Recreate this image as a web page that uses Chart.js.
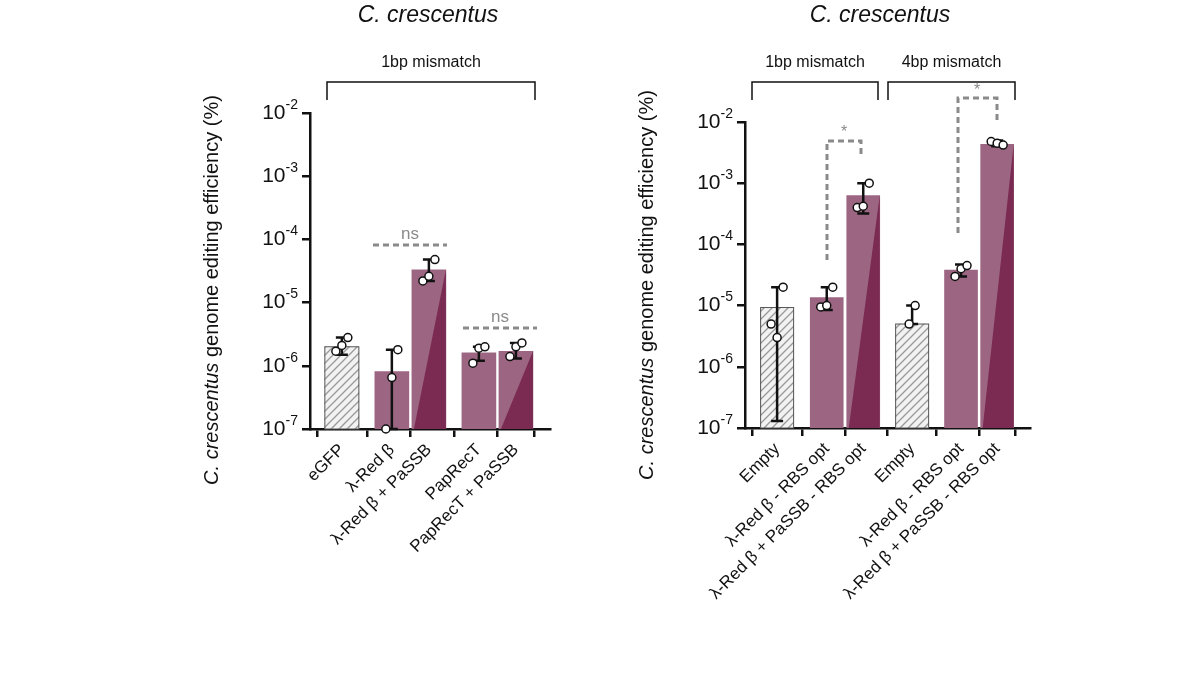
<!DOCTYPE html>
<html><head><meta charset="utf-8">
<script src="https://cdn.jsdelivr.net/npm/chart.js@4/dist/chart.umd.min.js"></script>
<style>
body{margin:0;background:#fff;width:1200px;height:675px;overflow:hidden;position:relative}
canvas{position:absolute;top:0}
</style></head><body>
<div style="position:absolute;left:0;top:0;width:600px;height:675px"><canvas id="c1"></canvas></div>
<div style="position:absolute;left:600px;top:0;width:600px;height:675px"><canvas id="c2"></canvas></div>
<script>
// ---- data ----
const leftLabels = ["eGFP", "λ-Red β", "λ-Red β + PaSSB", "PapRecT", "PapRecT + PaSSB"];
const leftPos = [0, 1.35, 2.35, 3.7, 4.7];
const leftMeans = [2.0e-6, 8.1e-7, 3.3e-5, 1.6e-6, 1.7e-6];
const leftErrLow = [1.5e-6, 1.0e-7, 2.2e-5, 1.2e-6, 1.3e-6];
const leftErrHigh = [2.8e-6, 1.8e-6, 4.8e-5, 2.0e-6, 2.3e-6];
const leftPoints = [[1.7e-6, 2.1e-6, 2.8e-6], [1.0e-7, 6.5e-7, 1.8e-6], [2.2e-5, 2.6e-5, 4.8e-5], [1.1e-6, 1.9e-6, 2.0e-6], [1.4e-6, 2.0e-6, 2.3e-6]];
const leftKind = ["hatch", "light", "split", "light", "split"];

const rightLabels = ["Empty", "λ-Red β - RBS opt", "λ-Red β + PaSSB - RBS opt", "Empty", "λ-Red β - RBS opt", "λ-Red β + PaSSB - RBS opt"];
const rightPos = [0, 1.36, 2.36, 3.7, 5.04, 6.03];
const rightMeans = [9.3e-6, 1.35e-5, 6.3e-4, 5.0e-6, 3.8e-5, 4.3e-3];
const rightErrLow = [1.3e-7, 8.5e-6, 3.2e-4, 5.0e-6, 3.0e-5, 4.0e-3];
const rightErrHigh = [2.0e-5, 2.0e-5, 1.0e-3, 1.0e-5, 4.7e-5, 5.0e-3];
const rightPoints = [[5e-6, 3e-6, 2e-5], [9.5e-6, 1e-5, 2e-5], [4e-4, 4.2e-4, 1e-3], [5e-6, 1e-5], [3e-5, 4e-5, 4.5e-5], [4.8e-3, 4.5e-3, 4.2e-3]];
const rightKind = ["hatch", "light", "split", "hatch", "light", "split"];

const yExps = [-7, -6, -5, -4, -3, -2];

const LIGHT = "#9c6682", DARK = "#7b2a52";
function hatch(){
  const c = document.createElement("canvas"); c.width = 8; c.height = 8;
  const g = c.getContext("2d");
  g.fillStyle = "#f2f2f2"; g.fillRect(0,0,8,8);
  g.strokeStyle = "#999"; g.lineWidth = 1.3;
  g.beginPath(); g.moveTo(0,8); g.lineTo(8,0); g.moveTo(-2,2); g.lineTo(2,-2); g.moveTo(6,10); g.lineTo(10,6); g.stroke();
  return g.createPattern(c, "repeat");
}
const HATCH = hatch();

function makeChart(id, o){
  const deco = {
    id: "deco",
    afterDatasetsDraw(chart){
      const ctx = chart.ctx, x = chart.scales.x, y = chart.scales.y;
      const meta = chart.getDatasetMeta(0);
      ctx.save();
      meta.data.forEach((bar, i) => {
        const hw = bar.width/2;
        if (o.kind[i] === "split"){
          ctx.fillStyle = DARK; ctx.beginPath();
          ctx.moveTo(bar.x - hw + 2, bar.base); ctx.lineTo(bar.x + hw, bar.y); ctx.lineTo(bar.x + hw, bar.base); ctx.closePath(); ctx.fill();
        }
        if (o.kind[i] === "hatch"){
          ctx.strokeStyle = "#555"; ctx.lineWidth = 1;
          ctx.strokeRect(bar.x - hw, bar.y, bar.width, bar.base - bar.y);
        }
        // error bar
        const xl = bar.x, yl = y.getPixelForValue(o.lo[i]), yh = y.getPixelForValue(o.hi[i]);
        ctx.strokeStyle = "#111"; ctx.lineWidth = 2.5;
        ctx.beginPath(); ctx.moveTo(xl, yl); ctx.lineTo(xl, yh);
        ctx.moveTo(xl-6, yl); ctx.lineTo(xl+6, yl); ctx.moveTo(xl-6, yh); ctx.lineTo(xl+6, yh); ctx.stroke();
        // points
        const n = o.pts[i].length;
        o.pts[i].forEach((v, k) => {
          const px = xl + (n > 1 ? (k - (n-1)/2) * 6 : 0);
          ctx.beginPath(); ctx.arc(px, y.getPixelForValue(v), 4, 0, Math.PI*2);
          ctx.fillStyle = "#fff"; ctx.fill(); ctx.lineWidth = 1.5; ctx.strokeStyle = "#111"; ctx.stroke();
        });
      });
      ctx.restore();
    },
    afterDraw(chart){
      const ctx = chart.ctx, y = chart.scales.y, a = chart.chartArea;
      ctx.save();
      ctx.fillStyle = "#111"; ctx.textBaseline = "middle";
      yExps.forEach(e => {
        const py = y.getPixelForValue(Math.pow(10, e));
        ctx.font = "14px 'Liberation Sans', Arial, sans-serif";
        const sup = "-" + Math.abs(e);
        const sw = ctx.measureText(sup).width;
        ctx.textAlign = "right";
        ctx.fillText(sup, a.left - 12, py - 8);
        ctx.font = "21px 'Liberation Sans', Arial, sans-serif";
        ctx.fillText("10", a.left - 12 - sw, py);
      });
      // y title
      ctx.translate(o.titleX, o.titleY); ctx.rotate(-Math.PI/2);
      const f1 = "italic 20px 'Liberation Sans', Arial, sans-serif", f2 = "20px 'Liberation Sans', Arial, sans-serif";
      const t1 = "C. crescentus", t2 = " genome editing efficiency (%)";
      ctx.font = f1; const w1 = ctx.measureText(t1).width;
      ctx.font = f2; const w2 = ctx.measureText(t2).width;
      ctx.textAlign = "left";
      ctx.font = f1; ctx.fillText(t1, -(w1+w2)/2, 0);
      ctx.font = f2; ctx.fillText(t2, -(w1+w2)/2 + w1, 0);
      ctx.restore();
      ctx.save();
      // panel title
      ctx.font = "italic 23px 'Liberation Sans', Arial, sans-serif"; ctx.textAlign = "center"; ctx.textBaseline = "middle"; ctx.fillStyle = "#111";
      ctx.fillText("C. crescentus", o.headX, 16);
      // brackets
      ctx.strokeStyle = "#111"; ctx.lineWidth = 1.5; ctx.font = "16px 'Liberation Sans', Arial, sans-serif";
      o.brackets.forEach(b => {
        ctx.beginPath(); ctx.moveTo(b[0], 100); ctx.lineTo(b[0], 82); ctx.lineTo(b[1], 82); ctx.lineTo(b[1], 100); ctx.stroke();
        ctx.fillText(b[2], (b[0]+b[1])/2, 63);
      });
      // significance
      ctx.strokeStyle = "#8a8a8a"; ctx.fillStyle = "#8a8a8a"; ctx.lineWidth = 3; ctx.setLineDash([6,4]);
      o.sig(ctx);
      ctx.restore();
    }
  };
  return new Chart(document.getElementById(id), {
    type: "bar",
    data: { datasets: [{
      data: o.pos.map((p, i) => ({x: p, y: o.means[i]})),
      backgroundColor: o.kind.map(k => k === "hatch" ? HATCH : LIGHT),
      barThickness: o.bw, borderWidth: 0
    }]},
    options: {
      responsive: false, animation: false,
      layout: { padding: { left: 0, top: o.top, right: o.padR, bottom: 0 } },
      plugins: { legend: {display: false}, tooltip: {enabled: false} },
      scales: {
        x: { type: "linear", min: o.xmin, max: o.xmax, offset: false,
          afterBuildTicks: s => { s.ticks = o.pos.map(p => ({value: p})); },
          afterFit: s => { s.height = 675 - o.bottom; },
          ticks: { autoSkip: false, minRotation: 45, maxRotation: 45, color: "#111",
            font: {size: 17, family: "'Liberation Sans', Arial, sans-serif"},
            callback: (v, i) => o.labels[i] },
          grid: { drawOnChartArea: false, color: "#111", lineWidth: 2.5, tickLength: 8 },
          border: { color: "#111", width: 2.5 } },
        y: { type: "logarithmic", min: 1e-7, max: 1e-2,
          afterBuildTicks: s => { s.ticks = yExps.map(e => ({value: Math.pow(10, e)})); },
          afterFit: s => { s.width = o.yw; },
          ticks: { callback: () => "" },
          grid: { drawOnChartArea: false, color: "#111", lineWidth: 2.5, tickLength: 8 },
          border: { color: "#111", width: 2.5 } }
      }
    },
    plugins: [deco]
  });
}
document.getElementById("c1").width = 600; document.getElementById("c1").height = 675;
document.getElementById("c2").width = 600; document.getElementById("c2").height = 675;

makeChart("c1", {
  labels: leftLabels, pos: leftPos, means: leftMeans, lo: leftErrLow, hi: leftErrHigh, pts: leftPoints, kind: leftKind,
  xmin: -0.86, xmax: 5.62, bw: 34, top: 113, padR: 50, yw: 310, bottom: 429,
  titleX: 212, titleY: 290, headX: 428,
  brackets: [[327, 535, "1bp mismatch"]],
  sig(ctx){
    ctx.beginPath(); ctx.moveTo(373, 245); ctx.lineTo(447, 245); ctx.moveTo(463, 328); ctx.lineTo(537, 328); ctx.stroke();
    ctx.font = "17px 'Liberation Sans', Arial, sans-serif";
    ctx.fillText("ns", 410, 234); ctx.fillText("ns", 500, 317);
  }
});
makeChart("c2", {
  labels: rightLabels, pos: rightPos, means: rightMeans, lo: rightErrLow, hi: rightErrHigh, pts: rightPoints, kind: rightKind,
  xmin: -0.88, xmax: 6.93, bw: 33, top: 122, padR: 170, yw: 145, bottom: 428,
  titleX: 47, titleY: 285, headX: 280,
  brackets: [[152, 278, "1bp mismatch"], [288, 415, "4bp mismatch"]],
  sig(ctx){
    ctx.beginPath(); ctx.moveTo(227, 260); ctx.lineTo(227, 141); ctx.lineTo(261, 141); ctx.lineTo(261, 155);
    ctx.moveTo(358, 233); ctx.lineTo(358, 98); ctx.lineTo(397, 98); ctx.lineTo(397, 120); ctx.stroke();
    ctx.font = "16px 'Liberation Sans', Arial, sans-serif";
    ctx.fillText("*", 244, 133); ctx.fillText("*", 377, 91);
  }
});
</script></body></html>
